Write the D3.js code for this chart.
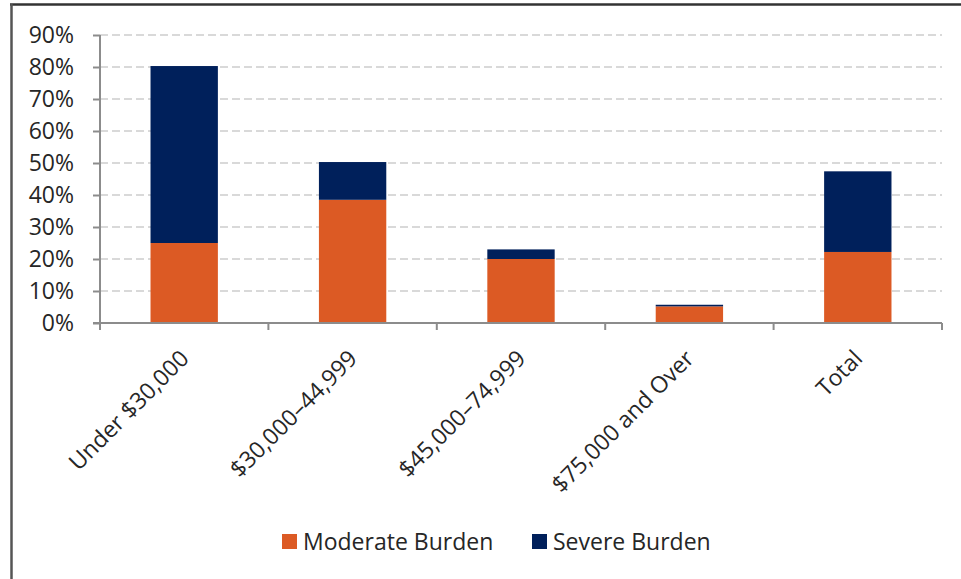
<!DOCTYPE html>
<html>
<head>
<meta charset="utf-8">
<script src="https://cdn.jsdelivr.net/npm/d3@7"></script>
<style>
  body { margin: 0; background: #fff; }
  text { font-family: "Open Sans", sans-serif; fill: #262626; }
</style>
</head>
<body>
<div id="chart"></div>
<script>
WIDTH = 961;
HEIGHT = 579;

// data (percent)
var categories = ["Under $30,000", "$30,000\u201344,999", "$45,000\u201374,999", "$75,000 and Over", "Total"];
var moderate = [25, 38.5, 20, 5.2, 22.2];
var severe = [55.3, 11.8, 3, 0.5, 25.2];
var seriesNames = ["Moderate Burden", "Severe Burden"];
var yTicks = [0, 10, 20, 30, 40, 50, 60, 70, 80, 90];

var colors = ["#dc5a24", "#00205b"];
var margin = { top: 35, right: 19, bottom: 256, left: 100 };
var fontSize = "23px";

var svg = d3.select("#chart").append("svg")
  .attr("width", WIDTH).attr("height", HEIGHT);

// frame
svg.append("line").attr("x1", 10).attr("x2", WIDTH).attr("y1", 4.5).attr("y2", 4.5)
  .attr("stroke", "#333").attr("stroke-width", 2.5);
svg.append("line").attr("x1", 11.5).attr("x2", 11.5).attr("y1", 4).attr("y2", HEIGHT)
  .attr("stroke", "#555").attr("stroke-width", 2.5);

var x = d3.scaleBand().domain(categories).range([margin.left, WIDTH - margin.right]).padding(0);
var y = d3.scaleLinear().domain([0, 90]).range([HEIGHT - margin.bottom, margin.top]);

// gridlines
svg.append("g").selectAll("line").data(yTicks.slice(1)).enter().append("line")
  .attr("x1", margin.left).attr("x2", WIDTH - margin.right)
  .attr("y1", d => y(d)).attr("y2", d => y(d))
  .attr("stroke", "#d9d9d9").attr("stroke-width", 2).attr("stroke-dasharray", "8,4");

var rows = categories.map((c, i) => ({ cat: c, moderate: moderate[i], severe: severe[i] }));
var stacked = d3.stack().keys(["moderate", "severe"])(rows);

var barW = x.bandwidth() * 0.4;
svg.append("g").selectAll("g").data(stacked).enter().append("g")
  .attr("fill", (d, i) => colors[i])
  .selectAll("rect").data(d => d).enter().append("rect")
  .attr("x", d => x(d.data.cat) + (x.bandwidth() - barW) / 2)
  .attr("width", barW)
  .attr("y", d => y(d[1]))
  .attr("height", d => y(d[0]) - y(d[1]));

// y axis
var yAxis = svg.append("g").attr("transform", "translate(" + margin.left + ",0)")
  .call(d3.axisLeft(y).tickValues(yTicks).tickFormat(d => d + "%").tickSize(7).tickPadding(19));
yAxis.selectAll("line, path").attr("stroke", "#8c8c8c").attr("stroke-width", 2);
yAxis.select("path").attr("d", "M0," + y(0) + "V" + y(90));
yAxis.selectAll("text").style("font-size", fontSize).style("font-family", "Open Sans").attr("fill", "#262626");

// x axis
var xAxis = svg.append("g").attr("transform", "translate(0," + y(0) + ")");
xAxis.append("line").attr("x1", margin.left - 7).attr("x2", WIDTH - margin.right)
  .attr("stroke", "#8c8c8c").attr("stroke-width", 2);
var bounds = categories.map(c => x(c)).concat([WIDTH - margin.right]);
xAxis.selectAll(".tk").data(bounds).enter().append("line")
  .attr("x1", d => d).attr("x2", d => d).attr("y1", 0).attr("y2", 7)
  .attr("stroke", "#8c8c8c").attr("stroke-width", 2);
xAxis.selectAll("text").data(categories).enter().append("text")
  .attr("transform", d => "translate(" + (x(d) + x.bandwidth() / 2 + 6) + ",37) rotate(-45)")
  .attr("text-anchor", "end")
  .style("font-size", fontSize)
  .text(d => d);

// legend
var legend = svg.append("g").attr("transform", "translate(282,534)");
var lx = [0, 250];
seriesNames.forEach((name, i) => {
  legend.append("rect").attr("x", lx[i]).attr("y", 0).attr("width", 15).attr("height", 15).attr("fill", colors[i]);
  legend.append("text").attr("x", lx[i] + 21).attr("y", 16).style("font-size", fontSize).text(name);
});
</script>
</body>
</html>
